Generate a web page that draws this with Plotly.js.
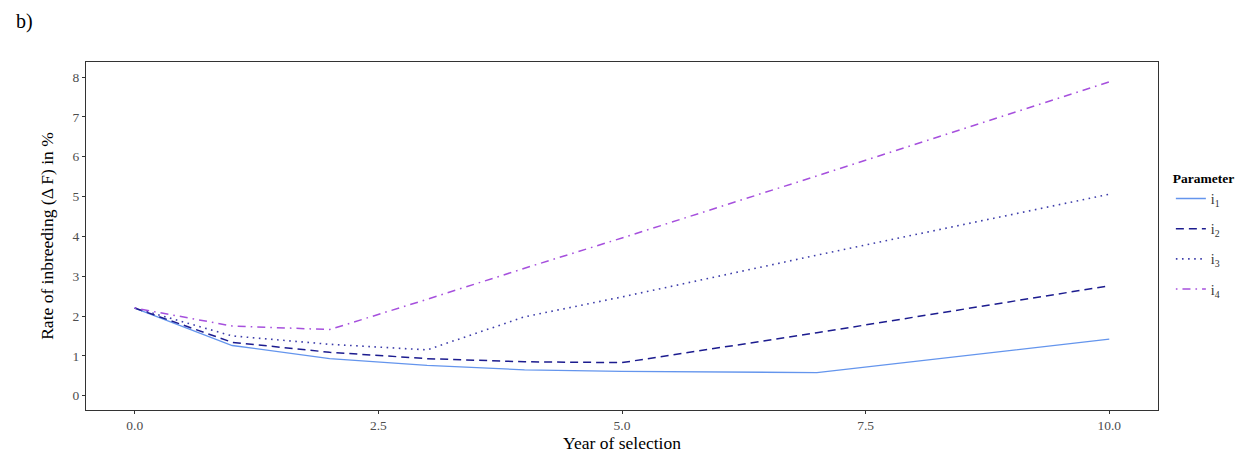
<!DOCTYPE html>
<html>
<head>
<meta charset="utf-8">
<script src="https://cdn.plot.ly/plotly-3.0.1.min.js"></script>
<style>html,body{margin:0;padding:0;background:#fff;}#chart{width:1253px;height:454px;}</style>
</head>
<body>
<div id="chart"></div>
<script>
const years = [0, 1, 2, 3, 4, 5, 7, 10];
const i1 = [2.2, 1.26, 0.93, 0.76, 0.65, 0.61, 0.58, 1.42];
const i2 = [2.2, 1.34, 1.09, 0.93, 0.85, 0.83, 1.58, 2.76];
const i3 = [2.2, 1.5, 1.29, 1.15, 1.98, 2.48, 3.53, 5.06];
const i4 = [2.2, 1.75, 1.66, 2.42, 3.2, 3.96, 5.52, 7.88];
const seriesNames = ['i<sub>1</sub>', 'i<sub>2</sub>', 'i<sub>3</sub>', 'i<sub>4</sub>'];
const xTicks = [0, 2.5, 5, 7.5, 10];
const xTickLabels = ['0.0', '2.5', '5.0', '7.5', '10.0'];
const yTicks = [0, 1, 2, 3, 4, 5, 6, 7, 8];

const font = 'Liberation Serif, Times New Roman, serif';
const styles = [
  {color: '#6495ED', dash: 'solid', width: 1.3},
  {color: '#1c1c8f', dash: '8px,5px', width: 1.5},
  {color: '#3d3daa', dash: '1.6px,4.5px', width: 1.6},
  {color: '#a650dd', dash: '1.6px,5px,8px,5px', width: 1.5}
];
const vals = [i1, i2, i3, i4];
const traces = vals.map((v, k) => ({
  x: years, y: v, type: 'scatter', mode: 'lines', name: seriesNames[k],
  legendgroup: 'g' + k,
  line: {color: styles[k].color, dash: styles[k].dash, width: styles[k].width}
}));

const axisCommon = {
  showgrid: false, zeroline: false, showline: true, mirror: true,
  linecolor: '#333333', linewidth: 1,
  ticks: 'outside', ticklen: 3, tickcolor: '#333333', tickwidth: 1,
  tickfont: {family: font, size: 13.5, color: '#4d4d4d'}
};

const layout = {
  width: 1253, height: 454,
  margin: {l: 86, r: 95, t: 62, b: 44},
  paper_bgcolor: '#ffffff', plot_bgcolor: '#ffffff',
  font: {family: font, color: '#000'},
  xaxis: Object.assign({}, axisCommon, {
    range: [-0.5, 10.5], tickvals: xTicks, ticktext: xTickLabels,
    title: {text: 'Year of selection', font: {family: font, size: 17.5, color: '#000'}, standoff: 1}
  }),
  yaxis: Object.assign({}, axisCommon, {
    range: [-0.36, 8.38], tickvals: yTicks,
    title: {text: 'Rate of inbreeding (Δ F) in %', font: {family: font, size: 17.5, color: '#000'}, standoff: 14}
  }),
  showlegend: true,
  legend: {
    x: 1.012, y: 0.703, xanchor: 'left', yanchor: 'top',
    title: {text: '<b>Parameter</b>', font: {family: font, size: 13.5, color: '#000'}},
    font: {family: font, size: 14, color: '#333'},
    tracegroupgap: 9, itemwidth: 30, bgcolor: 'rgba(0,0,0,0)'
  },
  annotations: [{
    text: 'b)', xref: 'paper', yref: 'paper', x: -0.067, y: 1.155,
    xanchor: 'left', yanchor: 'top', showarrow: false,
    font: {family: font, size: 20, color: '#000'}
  }]
};

Plotly.newPlot('chart', traces, layout, {displayModeBar: false, staticPlot: true});
</script>
</body>
</html>
